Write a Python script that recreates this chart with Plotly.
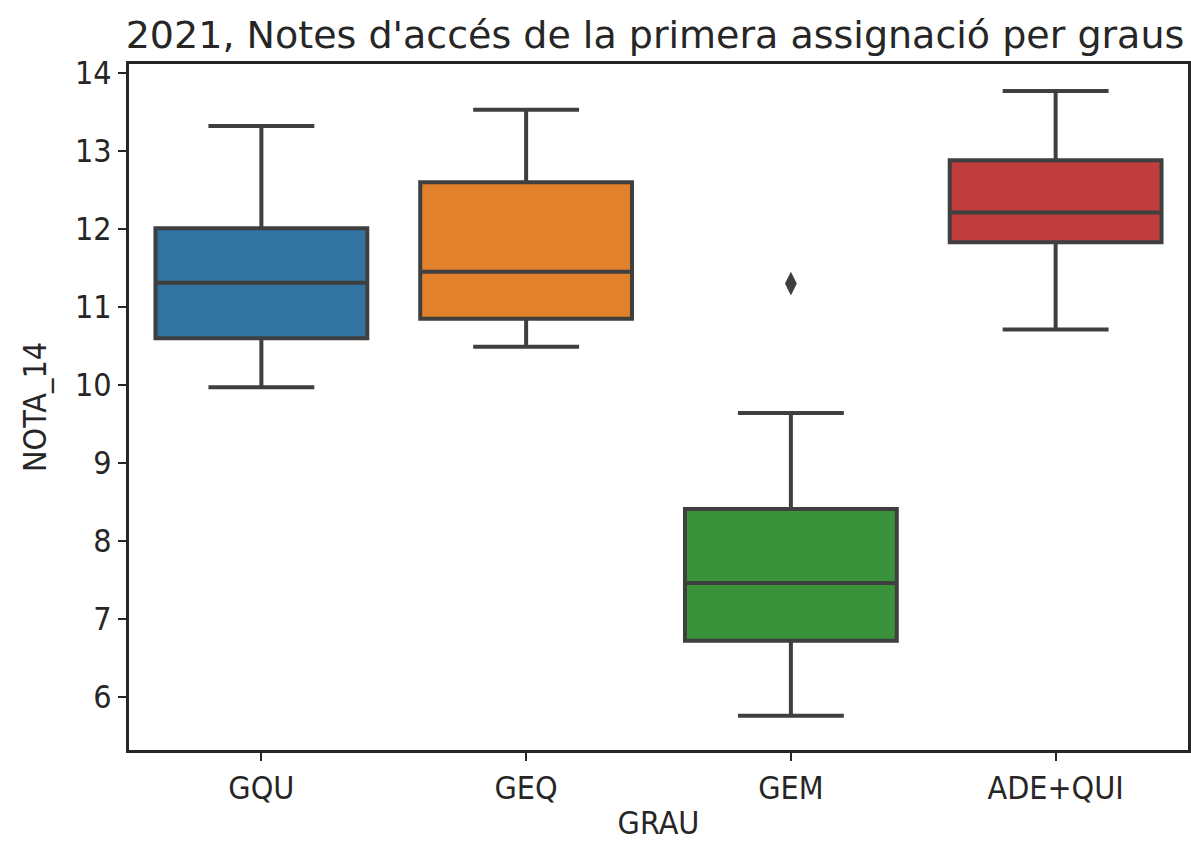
import plotly.graph_objects as go

categories = ["GQU", "GEQ", "GEM", "ADE+QUI"]
q1_vals = [10.60, 10.85, 6.72, 11.83]
median_vals = [11.31, 11.45, 7.46, 12.21]
q3_vals = [12.01, 12.60, 8.41, 12.88]
lower_whisker = [9.97, 10.49, 5.76, 10.71]
upper_whisker = [13.32, 13.53, 9.64, 13.77]
outlier_cats = ["GEM"]
outlier_vals = [11.30]
colors = ["#3274a1", "#e1812c", "#3a923a", "#c03d3e"]
yticks = [6, 7, 8, 9, 10, 11, 12, 13, 14]

FONT = "DejaVu Sans Condensed, DejaVu Sans"
TFONT = "DejaVu Sans"
LINE = "#3f3f3f"

fig = go.Figure()
for i, cat in enumerate(categories):
    fig.add_trace(go.Box(
        x=[cat],
        q1=[q1_vals[i]],
        median=[median_vals[i]],
        q3=[q3_vals[i]],
        lowerfence=[lower_whisker[i]],
        upperfence=[upper_whisker[i]],
        fillcolor=colors[i],
        line=dict(color=LINE, width=4),
        whiskerwidth=0.5,
        width=0.8,
        boxpoints=False,
        showlegend=False,
        hoverinfo="y",
    ))

fig.add_trace(go.Scatter(
    x=outlier_cats, y=outlier_vals, mode="markers",
    marker=dict(symbol="diamond-tall", size=17, color=LINE),
    showlegend=False,
))

fig.update_layout(
    width=1191, height=842,
    margin=dict(l=129, r=3, t=64, b=92, autoexpand=False),
    plot_bgcolor="white", paper_bgcolor="white",
    font=dict(family=FONT, color="#262626"),
    title=dict(text="2021, Notes d'accés de la primera assignació per graus",
               x=655 / 1191, xanchor="center", xref="container",
               y=1 - 35 / 842, yanchor="middle", yref="container",
               automargin=False,
               font=dict(size=38, family=TFONT, color="#262626")),
)
fig.update_xaxes(
    type="category", categoryorder="array", categoryarray=categories,
    range=[-0.5, 3.5], automargin=True,
    showgrid=False, zeroline=False,
    showline=True, linecolor="#262626", linewidth=3, mirror=True,
    ticks="outside", ticklen=8, tickwidth=2, tickcolor="#262626",
    tickfont=dict(size=32, family=FONT),
    title=dict(text="GRAU", font=dict(size=32, family=FONT), standoff=16),
)
fig.update_yaxes(
    range=[5.32, 14.115], automargin=True,
    tickvals=yticks, ticktext=[str(t) for t in yticks],
    showgrid=False, zeroline=False,
    showline=True, linecolor="#262626", linewidth=3, mirror=True,
    ticks="outside", ticklen=8, tickwidth=2, tickcolor="#262626",
    tickfont=dict(size=32, family=FONT),
    title=dict(text="NOTA_14", font=dict(size=32, family=FONT), standoff=19),
)

fig.write_html(
    "out.html",
    config={"displayModeBar": False},
    post_script="document.body.style.margin='0';document.body.style.overflow='hidden';",
)
